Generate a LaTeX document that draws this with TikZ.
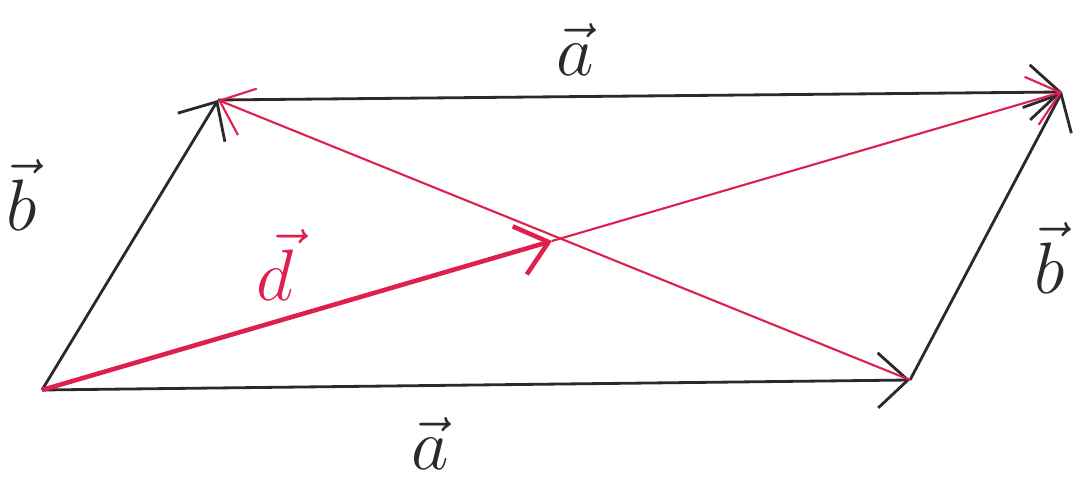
\documentclass[tikz,border=0pt]{standalone}
\usepackage{amsmath,amssymb}
\usepackage{tikz}
\usetikzlibrary{arrows.meta,positioning,calc}
\usepackage{xcolor}
\definecolor{pen}{RGB}{222,32,78}
\definecolor{ink}{RGB}{45,40,45}

\tikzset{
    vec/.style={-{Straight Barb[length=3mm,width=5.5mm]}, line width=0.8pt, ink},
    diag/.style={-{Straight Barb[length=3mm,width=5mm]}, line width=0.6pt, pen},
    lab/.style={font=\huge}
}

\begin{document}
\begin{tikzpicture}
    \useasboundingbox (0,0) rectangle (10.81,4.80);
    % Nodes
    \coordinate (A) at (0.42,0.90);
    \coordinate (B) at (9.10,1.00);
    \coordinate (C) at (10.62,3.88);
    \coordinate (D) at (2.18,3.80);
    \coordinate (M) at ($(A)!0.5!(C)$);
    \node[lab,ink] (at) at (5.75,4.30) {\(\vec a\)};
    \node[lab,ink,anchor=base] (ab) at (4.30,0.10) {\(\vec a\)};
    \node[lab,ink] (bl) at (0.22,2.85) {\(\vec b\)};
    \node[lab,ink] (br) at (10.50,2.22) {\(\vec b\)};
    \node[lab,pen] (d) at (2.75,2.15) {\(\vec d\)};

    % Arrows
    \draw[vec] (A) -- (B);
    \draw[vec] (D) -- (C);
    \draw[vec] (A) -- (D);
    \draw[vec] (B) -- (C);
    \draw[diag,line width=1.3pt] (A) -- (M);
    \draw[diag] (M) -- (C);
    \draw[diag] (B) -- (D);
\end{tikzpicture}
\end{document}
